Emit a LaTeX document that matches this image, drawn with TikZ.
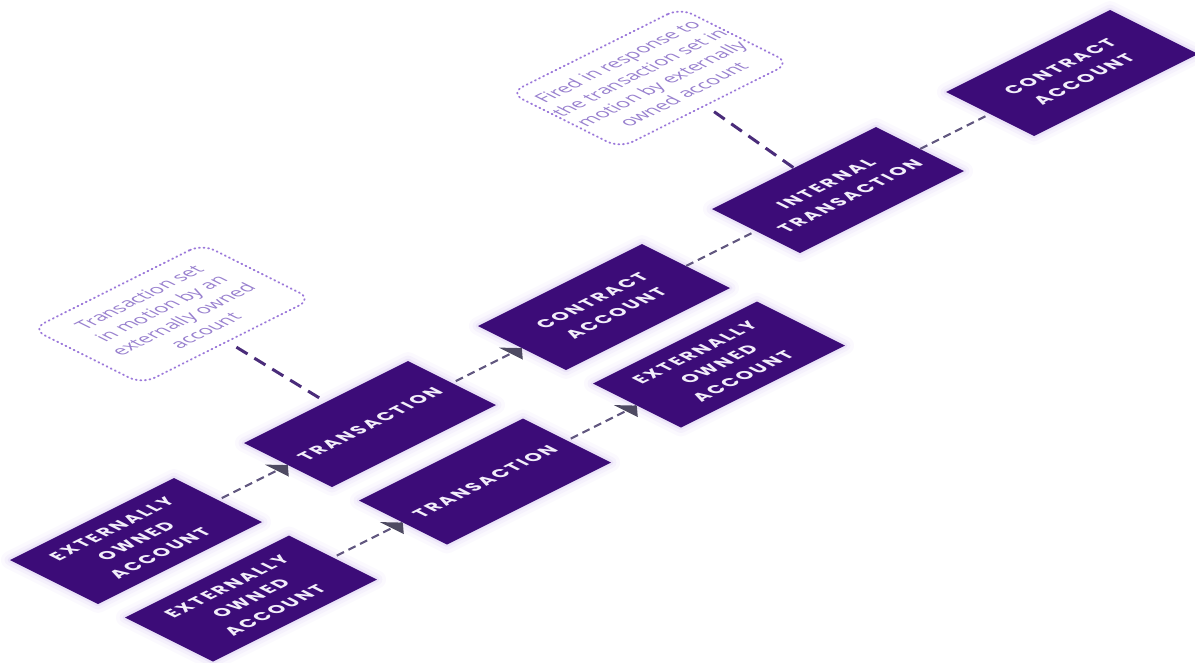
\documentclass[tikz,border=0pt]{standalone}
\usepackage{fontspec}
\setmainfont{Open Sans}
\newfontfamily\boxfont[LetterSpace=13]{Poppins}
\newfontfamily\notefont{Open Sans}
\definecolor{boxpurple}{RGB}{60,12,120}
\definecolor{glow}{RGB}{150,110,220}
\definecolor{boxtext}{RGB}{242,238,250}
\definecolor{linkgrey}{RGB}{98,88,128}
\definecolor{tipgrey}{RGB}{78,74,98}
\definecolor{notedots}{RGB}{155,120,218}
\definecolor{notetext}{RGB}{152,128,206}
\definecolor{notelinkc}{RGB}{74,44,122}
\begin{document}
\begin{tikzpicture}[x=1pt,y=1pt,
  acct/.style={transform shape, fill=boxpurple, minimum width=164pt, minimum height=88pt,
    inner sep=0pt, text=boxtext, align=center,
    font=\boxfont\bfseries\fontsize{16}{24}\selectfont,
    preaction={draw=glow, line width=18pt, opacity=0.04, line join=round},
    preaction={draw=glow, line width=11pt, opacity=0.06, line join=round},
    preaction={draw=glow, line width=5pt, opacity=0.10, line join=round}},
  note/.style={transform shape, draw=notedots, line width=1.8pt, line cap=round,
    dash pattern=on 1pt off 3.6pt, rounded corners=14pt,
    minimum width=170pt, minimum height=110pt, inner sep=0pt,
    text=notetext, align=center, font=\notefont\fontsize{17}{22}\selectfont},
  link/.style={draw=linkgrey, line width=2.2pt, dash pattern=on 8pt off 5pt},
  notelink/.style={draw=notelinkc, line width=3pt, dash pattern=on 13pt off 8pt},
  tipfill/.style={fill=tipgrey}]
\useasboundingbox (0,0) rectangle (1195,-662);
% top plane of the dimetric view: first axis runs up-right, second up-left
\begin{scope}[cm={1,0.5,-1,0.5,(0pt,0pt)}]
  % accounts and transactions
  \node[acct] (eoa1) at (-473,-609) {EXTERNALLY\\OWNED\\ACCOUNT};
  \node[acct] (tx1)  at (-239,-609) {TRANSACTION};
  \node[acct] (ca1)  at (-5,-609)   {CONTRACT\\ACCOUNT};
  \node[acct] (itx)  at (229,-609)  {INTERNAL\\TRANSACTION};
  \node[acct] (ca2)  at (463,-609)  {CONTRACT\\ACCOUNT};
  \node[acct] (eoa2) at (-473,-724) {EXTERNALLY\\OWNED\\ACCOUNT};
  \node[acct] (tx2)  at (-239,-724) {TRANSACTION};
  \node[acct] (eoa3) at (-5,-724)   {EXTERNALLY\\OWNED\\ACCOUNT};
  % annotations
  \node[note] (n1) at (-228,-400) {Transaction set\\in motion by an\\externally owned\\account};
  \node[note] (n2) at (247,-403) {Fired in response to\\the transaction set in\\motion by externally\\owned account};
  % arrows between the boxes
  \draw[link, shorten <=4pt] (eoa1.east) -- (tx1.west);
  \fill[tipfill] (tx1.west) -- ++(-11,12) -- ++(0,-24) -- cycle;
  \draw[link, shorten <=4pt] (tx1.east) -- (ca1.west);
  \fill[tipfill] (ca1.west) -- ++(-11,12) -- ++(0,-24) -- cycle;
  \draw[link, shorten <=4pt] (eoa2.east) -- (tx2.west);
  \fill[tipfill] (tx2.west) -- ++(-11,12) -- ++(0,-24) -- cycle;
  \draw[link, shorten <=4pt] (tx2.east) -- (eoa3.west);
  \fill[tipfill] (eoa3.west) -- ++(-11,12) -- ++(0,-24) -- cycle;
  \draw[link] (ca1.east) -- (itx.west);
  \draw[link] (itx.east) -- (ca2.west);
  % annotation leaders
  \draw[notelink, shorten <=10pt] (n1.south) -- (tx1.north);
  \draw[notelink, shorten <=10pt] (n2.south) -- (itx.north);
\end{scope}
\end{tikzpicture}
\end{document}
